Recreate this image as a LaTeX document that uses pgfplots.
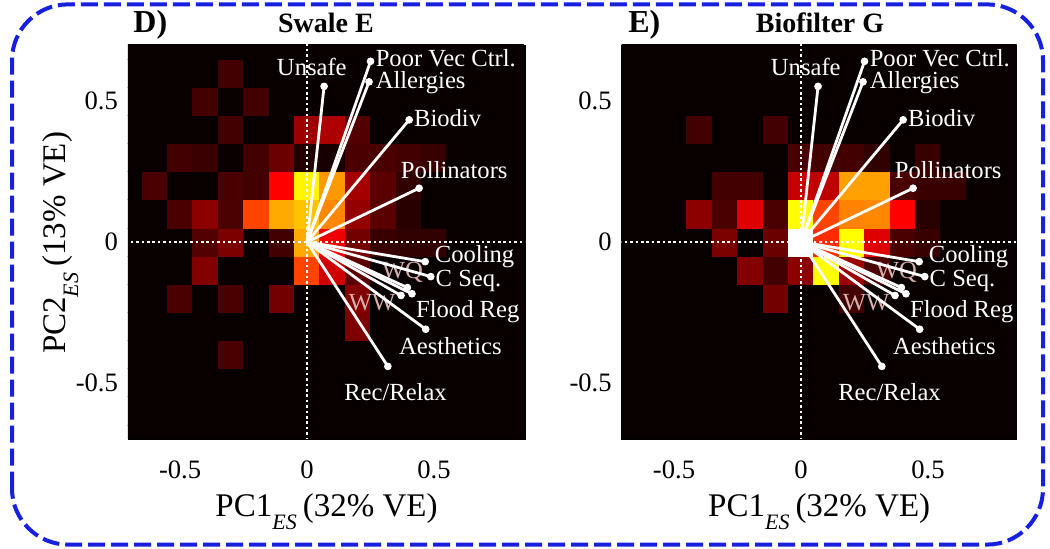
\documentclass[border=0pt]{standalone}
\usepackage{pgfplots}
\pgfplotsset{compat=1.18}
\usepackage{pgfplotstable}
\usepackage{fontspec}
\setmainfont{Liberation Serif}

\definecolor{framecol}{RGB}{22,32,222}
\definecolor{hotbg}{RGB}{8,0,0}
\definecolor{dimlbl}{RGB}{215,175,175}

% 2-D histogram of PC scores, bins 0.1 x 0.1 (x = -0.7..0.8, y = -0.7..0.7)
\pgfplotstableread[row sep=\\]{
x y c\\
-0.7 -0.7 0\\ -0.6 -0.7 0\\ -0.5 -0.7 0\\ -0.4 -0.7 0\\ -0.3 -0.7 0\\ -0.2 -0.7 0\\ -0.1 -0.7 0\\ 0 -0.7 0\\ 0.1 -0.7 0\\ 0.2 -0.7 0\\ 0.3 -0.7 0\\ 0.4 -0.7 0\\ 0.5 -0.7 0\\ 0.6 -0.7 0\\ 0.7 -0.7 0\\ 0.8 -0.7 0\\
-0.7 -0.6 0\\ -0.6 -0.6 0\\ -0.5 -0.6 0\\ -0.4 -0.6 0\\ -0.3 -0.6 0\\ -0.2 -0.6 0\\ -0.1 -0.6 0\\ 0 -0.6 0\\ 0.1 -0.6 0\\ 0.2 -0.6 0\\ 0.3 -0.6 0\\ 0.4 -0.6 0\\ 0.5 -0.6 0\\ 0.6 -0.6 0\\ 0.7 -0.6 0\\ 0.8 -0.6 0\\
-0.7 -0.5 0\\ -0.6 -0.5 0\\ -0.5 -0.5 0\\ -0.4 -0.5 0\\ -0.3 -0.5 0\\ -0.2 -0.5 0\\ -0.1 -0.5 0\\ 0 -0.5 0\\ 0.1 -0.5 0\\ 0.2 -0.5 0\\ 0.3 -0.5 0\\ 0.4 -0.5 0\\ 0.5 -0.5 0\\ 0.6 -0.5 0\\ 0.7 -0.5 0\\ 0.8 -0.5 0\\
-0.7 -0.4 0\\ -0.6 -0.4 0\\ -0.5 -0.4 0\\ -0.4 -0.4 0\\ -0.3 -0.4 0.8\\ -0.2 -0.4 0\\ -0.1 -0.4 0\\ 0 -0.4 0\\ 0.1 -0.4 0\\ 0.2 -0.4 0\\ 0.3 -0.4 0\\ 0.4 -0.4 0\\ 0.5 -0.4 0\\ 0.6 -0.4 0\\ 0.7 -0.4 0\\ 0.8 -0.4 0\\
-0.7 -0.3 0\\ -0.6 -0.3 0\\ -0.5 -0.3 0\\ -0.4 -0.3 0\\ -0.3 -0.3 0\\ -0.2 -0.3 0\\ -0.1 -0.3 0\\ 0 -0.3 0\\ 0.1 -0.3 0\\ 0.2 -0.3 1.4\\ 0.3 -0.3 0\\ 0.4 -0.3 0\\ 0.5 -0.3 0\\ 0.6 -0.3 0\\ 0.7 -0.3 0\\ 0.8 -0.3 0\\
-0.7 -0.2 0\\ -0.6 -0.2 0\\ -0.5 -0.2 0.8\\ -0.4 -0.2 0\\ -0.3 -0.2 0.8\\ -0.2 -0.2 0\\ -0.1 -0.2 1.3\\ 0 -0.2 0\\ 0.1 -0.2 0\\ 0.2 -0.2 1.5\\ 0.3 -0.2 0\\ 0.4 -0.2 0\\ 0.5 -0.2 0\\ 0.6 -0.2 0\\ 0.7 -0.2 0\\ 0.8 -0.2 0\\
-0.7 -0.1 0\\ -0.6 -0.1 0\\ -0.5 -0.1 0\\ -0.4 -0.1 1.5\\ -0.3 -0.1 0\\ -0.2 -0.1 0\\ -0.1 -0.1 0\\ 0 -0.1 3.8\\ 0.1 -0.1 2.4\\ 0.2 -0.1 1.0\\ 0.3 -0.1 0\\ 0.4 -0.1 0\\ 0.5 -0.1 0\\ 0.6 -0.1 0\\ 0.7 -0.1 0\\ 0.8 -0.1 0\\
-0.7 0 0\\ -0.6 0 0\\ -0.5 0 0\\ -0.4 0 0.9\\ -0.3 0 1.4\\ -0.2 0 0\\ -0.1 0 0.7\\ 0 0 5.0\\ 0.1 0 2.8\\ 0.2 0 1.3\\ 0.3 0 0.6\\ 0.4 0 0.5\\ 0.5 0 0.5\\ 0.6 0 0\\ 0.7 0 0\\ 0.8 0 0\\
-0.7 0.1 0\\ -0.6 0.1 0\\ -0.5 0.1 0.8\\ -0.4 0.1 1.6\\ -0.3 0.1 0.8\\ -0.2 0.1 3.8\\ -0.1 0.1 5.0\\ 0 0.1 5.3\\ 0.1 0.1 4.6\\ 0.2 0.1 1.7\\ 0.3 0.1 1.0\\ 0.4 0.1 0.4\\ 0.5 0.1 0\\ 0.6 0.1 0\\ 0.7 0.1 0\\ 0.8 0.1 0\\
-0.7 0.2 0\\ -0.6 0.2 0.8\\ -0.5 0.2 0\\ -0.4 0.2 0\\ -0.3 0.2 0.8\\ -0.2 0.2 0.7\\ -0.1 0.2 3.0\\ 0 0.2 5.9\\ 0.1 0.2 4.8\\ 0.2 0.2 1.9\\ 0.3 0.2 1.0\\ 0.4 0.2 0.5\\ 0.5 0.2 0\\ 0.6 0.2 0\\ 0.7 0.2 0\\ 0.8 0.2 0\\
-0.7 0.3 0\\ -0.6 0.3 0\\ -0.5 0.3 0.7\\ -0.4 0.3 0.6\\ -0.3 0.3 0\\ -0.2 0.3 0.7\\ -0.1 0.3 1.2\\ 0 0.3 0.3\\ 0.1 0.3 0.2\\ 0.2 0.3 0.8\\ 0.3 0.3 0.8\\ 0.4 0.3 0.7\\ 0.5 0.3 0.6\\ 0.6 0.3 0\\ 0.7 0.3 0\\ 0.8 0.3 0\\
-0.7 0.4 0\\ -0.6 0.4 0\\ -0.5 0.4 0\\ -0.4 0.4 0\\ -0.3 0.4 0.7\\ -0.2 0.4 0\\ -0.1 0.4 0\\ 0 0.4 1.8\\ 0.1 0.4 2.0\\ 0.2 0.4 0.9\\ 0.3 0.4 0\\ 0.4 0.4 0\\ 0.5 0.4 0\\ 0.6 0.4 0\\ 0.7 0.4 0\\ 0.8 0.4 0\\
-0.7 0.5 0\\ -0.6 0.5 0\\ -0.5 0.5 0\\ -0.4 0.5 0.7\\ -0.3 0.5 0\\ -0.2 0.5 0.7\\ -0.1 0.5 0\\ 0 0.5 0\\ 0.1 0.5 0\\ 0.2 0.5 0\\ 0.3 0.5 0\\ 0.4 0.5 0\\ 0.5 0.5 0\\ 0.6 0.5 0\\ 0.7 0.5 0\\ 0.8 0.5 0\\
-0.7 0.6 0\\ -0.6 0.6 0\\ -0.5 0.6 0\\ -0.4 0.6 0\\ -0.3 0.6 0.7\\ -0.2 0.6 0\\ -0.1 0.6 0\\ 0 0.6 0\\ 0.1 0.6 0\\ 0.2 0.6 0\\ 0.3 0.6 0\\ 0.4 0.6 0\\ 0.5 0.6 0\\ 0.6 0.6 0\\ 0.7 0.6 0\\ 0.8 0.6 0\\
-0.7 0.7 0\\ -0.6 0.7 0\\ -0.5 0.7 0\\ -0.4 0.7 0\\ -0.3 0.7 0\\ -0.2 0.7 0\\ -0.1 0.7 0\\ 0 0.7 0\\ 0.1 0.7 0\\ 0.2 0.7 0\\ 0.3 0.7 0\\ 0.4 0.7 0\\ 0.5 0.7 0\\ 0.6 0.7 0\\ 0.7 0.7 0\\ 0.8 0.7 0\\
}\gridD

\pgfplotstableread[row sep=\\]{
x y c\\
-0.7 -0.7 0\\ -0.6 -0.7 0\\ -0.5 -0.7 0\\ -0.4 -0.7 0\\ -0.3 -0.7 0\\ -0.2 -0.7 0\\ -0.1 -0.7 0\\ 0 -0.7 0\\ 0.1 -0.7 0\\ 0.2 -0.7 0\\ 0.3 -0.7 0\\ 0.4 -0.7 0\\ 0.5 -0.7 0\\ 0.6 -0.7 0\\ 0.7 -0.7 0\\ 0.8 -0.7 0\\
-0.7 -0.6 0\\ -0.6 -0.6 0\\ -0.5 -0.6 0\\ -0.4 -0.6 0\\ -0.3 -0.6 0\\ -0.2 -0.6 0\\ -0.1 -0.6 0\\ 0 -0.6 0\\ 0.1 -0.6 0\\ 0.2 -0.6 0\\ 0.3 -0.6 0\\ 0.4 -0.6 0\\ 0.5 -0.6 0\\ 0.6 -0.6 0\\ 0.7 -0.6 0\\ 0.8 -0.6 0\\
-0.7 -0.5 0\\ -0.6 -0.5 0\\ -0.5 -0.5 0\\ -0.4 -0.5 0\\ -0.3 -0.5 0\\ -0.2 -0.5 0\\ -0.1 -0.5 0\\ 0 -0.5 0\\ 0.1 -0.5 0\\ 0.2 -0.5 0\\ 0.3 -0.5 0\\ 0.4 -0.5 0\\ 0.5 -0.5 0\\ 0.6 -0.5 0\\ 0.7 -0.5 0\\ 0.8 -0.5 0\\
-0.7 -0.4 0\\ -0.6 -0.4 0\\ -0.5 -0.4 0\\ -0.4 -0.4 0\\ -0.3 -0.4 0\\ -0.2 -0.4 0\\ -0.1 -0.4 0\\ 0 -0.4 0\\ 0.1 -0.4 0\\ 0.2 -0.4 0\\ 0.3 -0.4 0\\ 0.4 -0.4 0\\ 0.5 -0.4 0\\ 0.6 -0.4 0\\ 0.7 -0.4 0\\ 0.8 -0.4 0\\
-0.7 -0.3 0\\ -0.6 -0.3 0\\ -0.5 -0.3 0\\ -0.4 -0.3 0\\ -0.3 -0.3 0\\ -0.2 -0.3 0\\ -0.1 -0.3 0\\ 0 -0.3 0\\ 0.1 -0.3 0\\ 0.2 -0.3 0\\ 0.3 -0.3 0\\ 0.4 -0.3 0\\ 0.5 -0.3 0\\ 0.6 -0.3 0\\ 0.7 -0.3 0\\ 0.8 -0.3 0\\
-0.7 -0.2 0\\ -0.6 -0.2 0\\ -0.5 -0.2 0\\ -0.4 -0.2 0\\ -0.3 -0.2 0\\ -0.2 -0.2 0\\ -0.1 -0.2 1.3\\ 0 -0.2 0\\ 0.1 -0.2 0\\ 0.2 -0.2 0.7\\ 0.3 -0.2 0\\ 0.4 -0.2 0\\ 0.5 -0.2 0\\ 0.6 -0.2 0\\ 0.7 -0.2 0\\ 0.8 -0.2 0\\
-0.7 -0.1 0\\ -0.6 -0.1 0\\ -0.5 -0.1 0\\ -0.4 -0.1 0\\ -0.3 -0.1 0\\ -0.2 -0.1 1.5\\ -0.1 -0.1 0.7\\ 0 -0.1 1.6\\ 0.1 -0.1 6.0\\ 0.2 -0.1 1.8\\ 0.3 -0.1 0.8\\ 0.4 -0.1 0\\ 0.5 -0.1 0\\ 0.6 -0.1 0\\ 0.7 -0.1 0\\ 0.8 -0.1 0\\
-0.7 0 0\\ -0.6 0 0\\ -0.5 0 0\\ -0.4 0 0\\ -0.3 0 1.4\\ -0.2 0 0\\ -0.1 0 1.2\\ 0 0 8.0\\ 0.1 0 3.5\\ 0.2 0 6.0\\ 0.3 0 2.6\\ 0.4 0 0.8\\ 0.5 0 0.6\\ 0.6 0 0\\ 0.7 0 0\\ 0.8 0 0\\
-0.7 0.1 0\\ -0.6 0.1 0\\ -0.5 0.1 0\\ -0.4 0.1 1.6\\ -0.3 0.1 0.8\\ -0.2 0.1 2.6\\ -0.1 0.1 0.8\\ 0 0.1 6.0\\ 0.1 0.1 3.8\\ 0.2 0.1 4.5\\ 0.3 0.1 4.6\\ 0.4 0.1 3.0\\ 0.5 0.1 0.4\\ 0.6 0.1 0\\ 0.7 0.1 0\\ 0.8 0.1 0\\
-0.7 0.2 0\\ -0.6 0.2 0\\ -0.5 0.2 0\\ -0.4 0.2 0\\ -0.3 0.2 0.7\\ -0.2 0.2 0.7\\ -0.1 0.2 0\\ 0 0.2 2.3\\ 0.1 0.2 2.2\\ 0.2 0.2 4.9\\ 0.3 0.2 4.9\\ 0.4 0.2 0.8\\ 0.5 0.2 0.6\\ 0.6 0.2 0.6\\ 0.7 0.2 0\\ 0.8 0.2 0\\
-0.7 0.3 0\\ -0.6 0.3 0\\ -0.5 0.3 0\\ -0.4 0.3 0\\ -0.3 0.3 0\\ -0.2 0.3 0\\ -0.1 0.3 0\\ 0 0.3 0.8\\ 0.1 0.3 0.7\\ 0.2 0.3 0.7\\ 0.3 0.3 0.5\\ 0.4 0.3 0\\ 0.5 0.3 0.6\\ 0.6 0.3 0\\ 0.7 0.3 0\\ 0.8 0.3 0\\
-0.7 0.4 0\\ -0.6 0.4 0\\ -0.5 0.4 0\\ -0.4 0.4 0.7\\ -0.3 0.4 0\\ -0.2 0.4 0\\ -0.1 0.4 0.7\\ 0 0.4 0\\ 0.1 0.4 0\\ 0.2 0.4 0\\ 0.3 0.4 0\\ 0.4 0.4 0\\ 0.5 0.4 0\\ 0.6 0.4 0\\ 0.7 0.4 0\\ 0.8 0.4 0\\
-0.7 0.5 0\\ -0.6 0.5 0\\ -0.5 0.5 0\\ -0.4 0.5 0\\ -0.3 0.5 0\\ -0.2 0.5 0\\ -0.1 0.5 0\\ 0 0.5 0\\ 0.1 0.5 0\\ 0.2 0.5 0\\ 0.3 0.5 0\\ 0.4 0.5 0\\ 0.5 0.5 0\\ 0.6 0.5 0\\ 0.7 0.5 0\\ 0.8 0.5 0\\
-0.7 0.6 0\\ -0.6 0.6 0\\ -0.5 0.6 0\\ -0.4 0.6 0\\ -0.3 0.6 0\\ -0.2 0.6 0\\ -0.1 0.6 0\\ 0 0.6 0\\ 0.1 0.6 0\\ 0.2 0.6 0\\ 0.3 0.6 0\\ 0.4 0.6 0\\ 0.5 0.6 0\\ 0.6 0.6 0\\ 0.7 0.6 0\\ 0.8 0.6 0\\
-0.7 0.7 0\\ -0.6 0.7 0\\ -0.5 0.7 0\\ -0.4 0.7 0\\ -0.3 0.7 0\\ -0.2 0.7 0\\ -0.1 0.7 0\\ 0 0.7 0\\ 0.1 0.7 0\\ 0.2 0.7 0\\ 0.3 0.7 0\\ 0.4 0.7 0\\ 0.5 0.7 0\\ 0.6 0.7 0\\ 0.7 0.7 0\\ 0.8 0.7 0\\
}\gridE

% PCA loadings of the ecosystem-service ratings (vectors start at the origin)
\pgfplotstableread{
x0 y0 x      y
0  0  0.067  0.553
0  0  0.250  0.642
0  0  0.244  0.569
0  0  0.402  0.434
0  0  0.441  0.191
0  0  0.465 -0.070
0  0  0.487 -0.123
0  0  0.395 -0.162
0  0  0.413 -0.184
0  0  0.370 -0.190
0  0  0.467 -0.310
0  0  0.318 -0.442
}\loadings

\pgfplotsset{
  panel/.style={
    anchor=south west, scale only axis, height=197pt,
    ymin=-0.70, ymax=0.70,
    xtick={-0.5,0,0.5}, ytick={-0.5,0,0.5},
    xticklabels={-0.5,0,0.5}, yticklabels={-0.5,0,0.5},
    major tick length=0pt,
    tick label style={font=\fontsize{13.3}{15}\selectfont},
    xticklabel style={yshift=-7.5pt},
    yticklabel style={xshift=-1.5pt},
    axis line style={draw=black, line width=0.4pt},
    axis background/.style={fill=hotbg},
    colormap={hotmap}{rgb255(0cm)=(8,0,0); rgb255(3cm)=(255,0,0); rgb255(6cm)=(255,255,0); rgb255(8cm)=(255,255,255)},
    point meta min=0, point meta max=8,
  },
}
\tikzset{
  lbl/.style={text=white, font=\fontsize{12.3}{14}\selectfont, inner sep=0pt},
  zeroline/.style={white, line width=1.3pt, dash pattern=on 1.3pt off 1.4pt},
}

\newcommand{\biplotlayer}{%
  \node[lbl, anchor=west] at (axis cs:-0.12,0.623) {Unsafe};
  \node[lbl, anchor=west] at (axis cs:0.269,0.652) {Poor Vec Ctrl.};
  \node[lbl, anchor=west] at (axis cs:0.269,0.566) {Allergies};
  \node[lbl, anchor=west] at (axis cs:0.420,0.440) {Biodiv};
  \node[lbl, anchor=west] at (axis cs:0.368,0.257) {Pollinators};
  \node[lbl, anchor=west] at (axis cs:0.502,-0.052) {Cooling};
  \node[lbl, anchor=west] at (axis cs:0.505,-0.138) {C Seq.};
  \node[lbl, anchor=west] at (axis cs:0.428,-0.248) {Flood Reg};
  \node[lbl, anchor=west] at (axis cs:0.361,-0.369) {Aesthetics};
  \node[lbl, anchor=west] at (axis cs:0.145,-0.535) {Rec/Relax};
  \node[lbl, text=dimlbl] at (axis cs:0.375,-0.108) {WQ};
  \node[lbl, text=dimlbl] at (axis cs:0.256,-0.216) {WW};
  \addplot[zeroline] coordinates {(-0.8,0) (0.9,0)};
  \addplot[zeroline] coordinates {(0,-0.8) (0,0.8)};
  \addplot[white, line width=1.4pt, quiver={u=\thisrow{x}, v=\thisrow{y}}]
    table[x=x0, y=y0] {\loadings};
  \addplot[only marks, mark=*, mark size=1.7pt, white] table[x=x, y=y] {\loadings};
}

\begin{document}
\begin{tikzpicture}
\useasboundingbox (0,0) rectangle (525pt,274.5pt);

\begin{axis}[panel, at={(64pt,55pt)}, width=198.5pt, xmin=-0.705, xmax=0.858]
  \addplot[matrix plot*, mesh/cols=16, point meta=explicit]
    table[x=x, y=y, meta=c] {\gridD};
  \biplotlayer
\end{axis}

\begin{axis}[panel, at={(310.85pt,55pt)}, width=197.5pt, xmin=-0.706, xmax=0.849]
  \addplot[matrix plot*, mesh/cols=16, point meta=explicit]
    table[x=x, y=y, meta=c] {\gridE};
  \biplotlayer
\end{axis}

% titles
\node[anchor=base west, font=\fontsize{16}{18}\selectfont\bfseries, inner sep=0pt] at (66.5pt,258pt) {D)};
\node[anchor=base, font=\fontsize{14}{16}\selectfont\bfseries, inner sep=0pt] at (163pt,258pt) {Swale E};
\node[anchor=base west, font=\fontsize{16}{18}\selectfont\bfseries, inner sep=0pt] at (314pt,258pt) {E)};
\node[anchor=base, font=\fontsize{14}{16}\selectfont\bfseries, inner sep=0pt] at (410pt,258pt) {Biofilter G};

% axis labels
\newcommand{\pcsub}{\raisebox{-6.5pt}{\fontsize{11}{12}\selectfont\itshape ES}\hspace{3pt}}
\node[anchor=base, font=\fontsize{16.5}{18}\selectfont, inner sep=0pt] at (163.25pt,16.2pt) {PC1\pcsub(32\% VE)};
\node[anchor=base, font=\fontsize{16.5}{18}\selectfont, inner sep=0pt] at (409.6pt,16.2pt) {PC1\pcsub(32\% VE)};
\node[anchor=base, rotate=90, font=\fontsize{16.5}{18}\selectfont, inner sep=0pt] at (32.5pt,153pt) {PC2\pcsub(13\% VE)};

% dashed panel frame
\draw[framecol, line width=2pt, dash pattern=on 8.5pt off 3pt, rounded corners=28pt]
  (6pt,2.2pt) rectangle (521.5pt,272.3pt);
\end{tikzpicture}
\end{document}
